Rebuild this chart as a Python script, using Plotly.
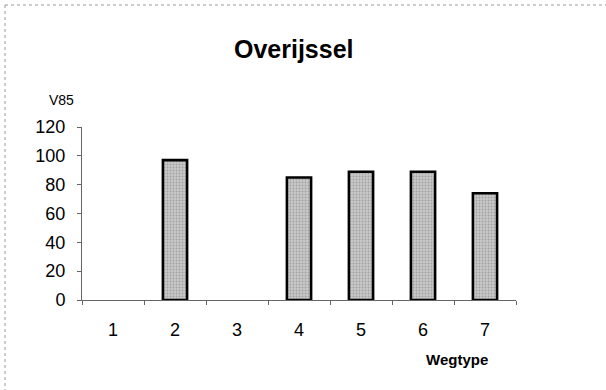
import plotly.graph_objects as go

# Data
categories = ["1", "2", "3", "4", "5", "6", "7"]
v85_values = [None, 97, None, 85, 89, 89, 74]
y_ticks = [0, 20, 40, 60, 80, 100, 120]

W, H = 606, 390
L, R, T, B = 82, 516, 127, 300  # plot area pixels

fig = go.Figure()
fig.add_trace(go.Bar(
    x=categories, y=v85_values, width=0.39,
    marker=dict(color="#bdbdbd", line=dict(color="#000", width=2.6),
                pattern=dict(shape=".", fgcolor="#7a7a7a", bgcolor="#c8c8c8", size=3, solidity=0.3)),
    showlegend=False,
))

def px_x(p):
    return (p - L) / (R - L)

def px_y(p):
    return (B - p) / (B - T)

fig.update_layout(
    width=W, height=H,
    margin=dict(l=L, r=W - R, t=T, b=H - B),
    paper_bgcolor="white", plot_bgcolor="white",
    font=dict(family="Liberation Sans, Arial, sans-serif", color="#000"),
    xaxis=dict(type="category", categoryorder="array", categoryarray=categories,
               range=[-0.5, 6.5], showgrid=False, zeroline=False,
               showline=True, linecolor="#666", linewidth=1,
               ticks="outside", tickson="boundaries", ticklen=4, tickcolor="#666",
               tickfont=dict(size=18), ticklabelstandoff=13),
    yaxis=dict(range=[0, 120], tickvals=y_ticks, showgrid=False, zeroline=False,
               showline=True, linecolor="#666", linewidth=1,
               ticks="outside", ticklen=4, tickcolor="#666",
               tickfont=dict(size=18), ticklabelstandoff=8),
    bargap=0.6,
)

fig.add_annotation(text="<b>Overijssel</b>", x=px_x(294), y=px_y(49), xref="paper", yref="paper",
                   showarrow=False, font=dict(size=25), xanchor="center", yanchor="middle")
fig.add_annotation(text="V85", x=px_x(61), y=px_y(100), xref="paper", yref="paper",
                   showarrow=False, font=dict(size=14), xanchor="center", yanchor="middle")
fig.add_annotation(text="<b>Wegtype</b>", x=px_x(457), y=px_y(359), xref="paper", yref="paper",
                   showarrow=False, font=dict(size=15), xanchor="center", yanchor="middle")

# outer frame (left and top edges)
fig.add_shape(type="line", xref="paper", yref="paper",
              x0=px_x(5), y0=px_y(5), x1=px_x(5), y1=px_y(392),
              line=dict(color="#999", width=1, dash="dot"))
fig.add_shape(type="line", xref="paper", yref="paper",
              x0=px_x(5), y0=px_y(5), x1=px_x(608), y1=px_y(5),
              line=dict(color="#999", width=1, dash="dot"))

fig.write_html("out.html", config={"displayModeBar": False},
               post_script="document.body.style.margin='0px';")
